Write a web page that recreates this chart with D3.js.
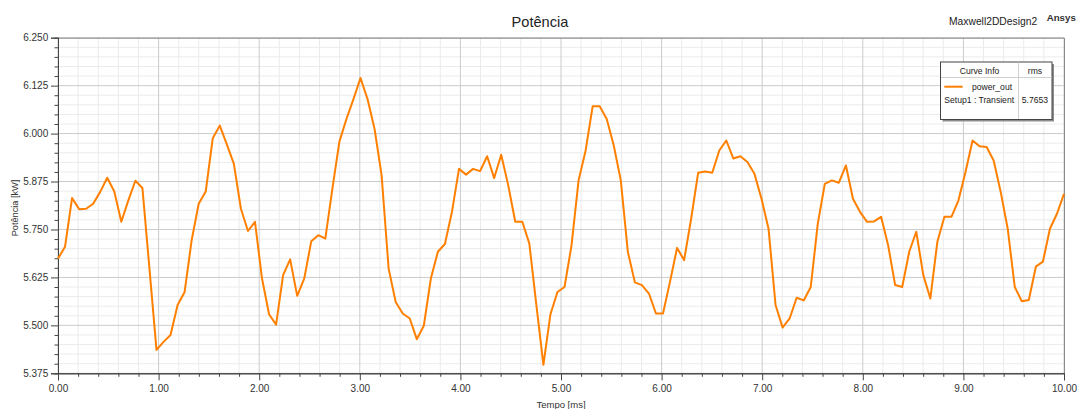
<!DOCTYPE html>
<html>
<head>
<meta charset="utf-8">
<script src="https://cdn.jsdelivr.net/npm/d3@7"></script>
<style>
    body { margin: 0; background: #fff; }
    svg { display: block; font-family: "Liberation Sans", Arial, sans-serif; }
    .axis text { fill: #333; font-size: 10px; }
    .axis line, .axis path { stroke: #444; }
</style>
</head>
<body>
<div class="chart"></div>
<script>
const w = 1079;
const h = 409;

// power_out samples (kW), 144 points from 0 to 10 ms
const power = [
    5.674, 5.705, 5.832, 5.803, 5.804, 5.817, 5.848, 5.885, 5.849, 5.770,
    5.826, 5.877, 5.858, 5.648, 5.436, 5.457, 5.475, 5.553, 5.587, 5.722,
    5.817, 5.849, 5.988, 6.021, 5.972, 5.921, 5.804, 5.746, 5.770, 5.622,
    5.529, 5.502, 5.631, 5.672, 5.577, 5.622, 5.719, 5.735, 5.726, 5.856,
    5.979, 6.038, 6.090, 6.145, 6.090, 6.012, 5.891, 5.648, 5.561, 5.531,
    5.518, 5.464, 5.499, 5.622, 5.692, 5.712, 5.796, 5.908, 5.893, 5.908,
    5.902, 5.941, 5.884, 5.945, 5.865, 5.770, 5.770, 5.713, 5.553, 5.397,
    5.529, 5.587, 5.600, 5.709, 5.878, 5.956, 6.071, 6.071, 6.038, 5.969,
    5.878, 5.692, 5.612, 5.605, 5.583, 5.531, 5.531, 5.614, 5.702, 5.670,
    5.778, 5.898, 5.901, 5.898, 5.956, 5.982, 5.935, 5.941, 5.926, 5.895,
    5.830, 5.752, 5.553, 5.494, 5.518, 5.572, 5.565, 5.600, 5.765, 5.869,
    5.878, 5.872, 5.917, 5.830, 5.796, 5.770, 5.771, 5.783, 5.709, 5.605,
    5.600, 5.692, 5.744, 5.631, 5.570, 5.718, 5.783, 5.783, 5.826, 5.900,
    5.982, 5.967, 5.965, 5.930, 5.848, 5.752, 5.600, 5.563, 5.566, 5.653,
    5.666, 5.752, 5.791, 5.843
];
const tEnd = 10; // ms, samples evenly spaced

const xTicks = [0, 1, 2, 3, 4, 5, 6, 7, 8, 9, 10];
const xMinor = [0.2, 0.4, 0.6, 0.8];
const yTicks = [5.375, 5.5, 5.625, 5.75, 5.875, 6.0, 6.125, 6.25];
const yMinor = [0.025, 0.05, 0.075, 0.1];

const legendCurve = "power_out";
const legendSetup = "Setup1 : Transient";
const legendRms = "5.7653";

const svg = d3
    .select(".chart")
    .append("svg")
    .attr("width", w)
    .attr("height", h);

const xScale = d3.scaleLinear().domain([0, 10]).range([58, 1064]);
const yScale = d3.scaleLinear().domain([5.375, 6.25]).range([373.3, 37.7]);

// minor positions between the major ticks
const xMinorVals = xTicks.slice(0, -1).flatMap((t) => xMinor.map((m) => t + m));
const yMinorVals = yTicks.slice(0, -1).flatMap((t) => yMinor.map((m) => t + m));

const data = power.map((v, i) => ({ t: (i * tEnd) / (power.length - 1), v }));

// grid
const grid = svg.append("g");
grid.selectAll(".xminor")
    .data(xMinorVals)
    .join("line")
    .attr("x1", (d) => xScale(d))
    .attr("x2", (d) => xScale(d))
    .attr("y1", yScale.range()[1])
    .attr("y2", yScale.range()[0])
    .attr("stroke", "#ebebeb");
grid.selectAll(".yminor")
    .data(yMinorVals)
    .join("line")
    .attr("x1", xScale.range()[0])
    .attr("x2", xScale.range()[1])
    .attr("y1", (d) => yScale(d))
    .attr("y2", (d) => yScale(d))
    .attr("stroke", "#ebebeb");
grid.selectAll(".xmajor")
    .data(xTicks)
    .join("line")
    .attr("x1", (d) => xScale(d))
    .attr("x2", (d) => xScale(d))
    .attr("y1", yScale.range()[1])
    .attr("y2", yScale.range()[0])
    .attr("stroke", "#cbcbcb");
grid.selectAll(".ymajor")
    .data(yTicks)
    .join("line")
    .attr("x1", xScale.range()[0])
    .attr("x2", xScale.range()[1])
    .attr("y1", (d) => yScale(d))
    .attr("y2", (d) => yScale(d))
    .attr("stroke", "#cbcbcb");

// frame top / right
svg.append("path")
    .attr("d", `M${xScale.range()[0]},${yScale.range()[1] + 0.5}H${xScale.range()[1] + 0.5}V${yScale.range()[0]}`)
    .attr("fill", "none")
    .attr("stroke", "#8a8a8a");

// axes
const xAxisG = svg.append("g")
    .attr("class", "axis")
    .attr("transform", `translate(0,${yScale.range()[0]})`);
xAxisG.call(
    d3.axisBottom(xScale).tickValues(xMinorVals).tickSize(3.5).tickFormat("")
);
xAxisG.append("g").call(
    d3.axisBottom(xScale).tickValues(xTicks).tickSize(7).tickPadding(4.5).tickFormat(d3.format(".2f"))
);

const yAxisG = svg.append("g")
    .attr("class", "axis")
    .attr("transform", `translate(${xScale.range()[0]},0)`);
yAxisG.call(
    d3.axisLeft(yScale).tickValues(yMinorVals).tickSize(3.5).tickFormat("")
);
yAxisG.append("g").call(
    d3.axisLeft(yScale).tickValues(yTicks).tickSize(7).tickPadding(2.8).tickFormat(d3.format(".3f"))
);

// curve
const line = d3.line()
    .x((d) => xScale(d.t))
    .y((d) => yScale(d.v));

svg.append("path")
    .datum(data)
    .attr("fill", "none")
    .attr("stroke", "#ff8000")
    .attr("stroke-width", 2)
    .attr("stroke-linejoin", "round")
    .attr("d", line);

// titles
svg.append("text")
    .attr("x", 540)
    .attr("y", 26.5)
    .attr("text-anchor", "middle")
    .attr("font-size", "14.6px")
    .attr("fill", "#222")
    .text("Potência");

svg.append("text")
    .attr("x", 949)
    .attr("y", 25)
    .attr("font-size", "10.3px")
    .attr("fill", "#222")
    .text("Maxwell2DDesign2");

svg.append("text")
    .attr("x", 1046.7)
    .attr("y", 20.5)
    .attr("font-size", "9.7px")
    .attr("font-weight", "bold")
    .attr("fill", "#333")
    .text("Ansys");

svg.append("text")
    .attr("x", (xScale.range()[0] + xScale.range()[1]) / 2)
    .attr("y", 408)
    .attr("text-anchor", "middle")
    .attr("font-size", "9.5px")
    .attr("fill", "#333")
    .text("Tempo [ms]");

svg.append("text")
    .attr("transform", `translate(17.5,208) rotate(-90)`)
    .attr("text-anchor", "middle")
    .attr("font-size", "9.2px")
    .attr("fill", "#333")
    .text("Potência [kW]");

// legend
const lg = svg.append("g").attr("transform", "translate(940,61.5)");
const lw = 111.5;
const lh = 57.5;
lg.append("rect")
    .attr("x", 2.5)
    .attr("y", 2.5)
    .attr("width", lw)
    .attr("height", lh)
    .attr("fill", "#8c8c8c");
lg.append("rect")
    .attr("x", 0.5)
    .attr("y", 0.5)
    .attr("width", lw)
    .attr("height", lh)
    .attr("fill", "#fff")
    .attr("stroke", "#444");
lg.append("line")
    .attr("x1", 78.5)
    .attr("x2", 78.5)
    .attr("y1", 1)
    .attr("y2", lh)
    .attr("stroke", "#d0d0d0");
lg.append("line")
    .attr("x1", 1)
    .attr("x2", lw)
    .attr("y1", 16)
    .attr("y2", 16)
    .attr("stroke", "#d0d0d0");
lg.append("text")
    .attr("x", 39.5)
    .attr("y", 12.5)
    .attr("text-anchor", "middle")
    .attr("font-size", "8.6px")
    .attr("fill", "#222")
    .text("Curve Info");
lg.append("text")
    .attr("x", 95)
    .attr("y", 12.5)
    .attr("text-anchor", "middle")
    .attr("font-size", "8.6px")
    .attr("fill", "#222")
    .text("rms");
lg.append("line")
    .attr("x1", 4.3)
    .attr("x2", 22.7)
    .attr("y1", 25.2)
    .attr("y2", 25.2)
    .attr("stroke", "#ff8000")
    .attr("stroke-width", 2);
lg.append("text")
    .attr("x", 52)
    .attr("y", 28.5)
    .attr("text-anchor", "middle")
    .attr("font-size", "8.6px")
    .attr("fill", "#222")
    .text(legendCurve);
lg.append("text")
    .attr("x", 4.3)
    .attr("y", 41.5)
    .attr("font-size", "8.6px")
    .attr("fill", "#222")
    .text(legendSetup);
lg.append("text")
    .attr("x", 95)
    .attr("y", 41.5)
    .attr("text-anchor", "middle")
    .attr("font-size", "8.6px")
    .attr("fill", "#222")
    .text(legendRms);
</script>
</body>
</html>
